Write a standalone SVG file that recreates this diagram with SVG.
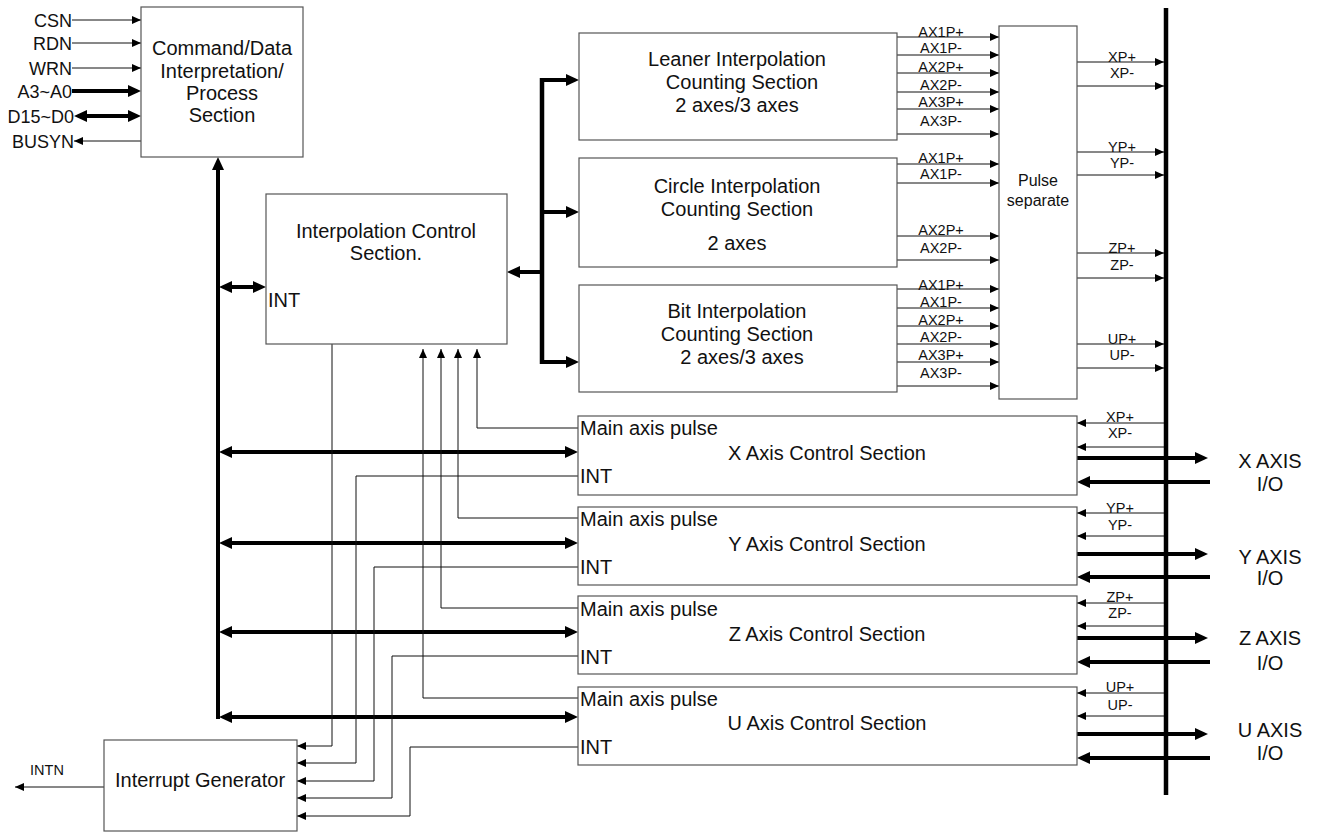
<svg xmlns="http://www.w3.org/2000/svg" width="1317" height="832" viewBox="0 0 1317 832">
<style>
.box{fill:#fff;stroke:#555;stroke-width:1.2}
.t{font-family:"Liberation Sans",Arial,sans-serif;font-size:20px;fill:#111}
.m{text-anchor:middle}
.e{text-anchor:end}
.s{font-family:"Liberation Sans",Arial,sans-serif;font-size:18px;fill:#111}
.l{font-family:"Liberation Sans",Arial,sans-serif;font-size:14.5px;fill:#111;text-anchor:middle}
.thin{fill:none;stroke:#111;stroke-width:1;marker-end:url(#a)}
.thinp{fill:none;stroke:#111;stroke-width:1}
.thick{fill:none;stroke:#000;stroke-width:4;marker-end:url(#b)}
.dbl{fill:none;stroke:#000;stroke-width:4;marker-start:url(#b);marker-end:url(#b)}
.bus{fill:none;stroke:#000;stroke-width:4.5}
</style>
<defs>
<marker id="a" viewBox="0 0 9 8" refX="9" refY="4" markerWidth="9" markerHeight="8" markerUnits="userSpaceOnUse" orient="auto-start-reverse"><path d="M0,0 L9,4 L0,8 z" fill="#000"/></marker>
<marker id="b" viewBox="0 0 13 12" refX="7" refY="6" markerWidth="13" markerHeight="12" markerUnits="userSpaceOnUse" orient="auto-start-reverse"><path d="M0,0 L13,6 L0,12 z" fill="#000"/></marker>
</defs>

<g id="connectors">
<!-- command inputs -->
<line class="thin" x1="72" y1="20" x2="141" y2="20"/>
<line class="thin" x1="72" y1="43" x2="141" y2="43"/>
<line class="thin" x1="72" y1="68" x2="141" y2="68"/>
<line class="thick" x1="72" y1="91" x2="135" y2="91"/>
<line class="dbl" x1="80" y1="116" x2="135" y2="116"/>
<line class="thin" x1="141" y1="141" x2="74" y2="141"/>
<!-- main bus -->
<line class="thick" x1="218" y1="719" x2="218" y2="163"/>
<line class="dbl" x1="225" y1="287" x2="260" y2="287"/>
<line class="dbl" x1="225" y1="452" x2="572" y2="452"/>
<line class="dbl" x1="225" y1="543" x2="572" y2="543"/>
<line class="dbl" x1="225" y1="632" x2="572" y2="632"/>
<line class="dbl" x1="225" y1="717" x2="572" y2="717"/>
<!-- distribution bus -->
<line class="bus" x1="542" y1="78" x2="542" y2="364"/>
<line class="thick" x1="540" y1="80" x2="573" y2="80"/>
<line class="thick" x1="542" y1="212" x2="573" y2="212"/>
<line class="thick" x1="540" y1="362" x2="573" y2="362"/>
<line class="thick" x1="544" y1="272" x2="513" y2="272"/>
<!-- leaner outputs -->
<line class="thin" x1="897" y1="37" x2="999" y2="37"/>
<line class="thin" x1="897" y1="55" x2="999" y2="55"/>
<line class="thin" x1="897" y1="73" x2="999" y2="73"/>
<line class="thin" x1="897" y1="92" x2="999" y2="92"/>
<line class="thin" x1="897" y1="109" x2="999" y2="109"/>
<line class="thin" x1="897" y1="134" x2="999" y2="134"/>
<!-- circle outputs -->
<line class="thin" x1="897" y1="164" x2="999" y2="164"/>
<line class="thin" x1="897" y1="183" x2="999" y2="183"/>
<line class="thin" x1="897" y1="236" x2="999" y2="236"/>
<line class="thin" x1="897" y1="260" x2="999" y2="260"/>
<!-- bit outputs -->
<line class="thin" x1="897" y1="289" x2="999" y2="289"/>
<line class="thin" x1="897" y1="308" x2="999" y2="308"/>
<line class="thin" x1="897" y1="326" x2="999" y2="326"/>
<line class="thin" x1="897" y1="344" x2="999" y2="344"/>
<line class="thin" x1="897" y1="362" x2="999" y2="362"/>
<line class="thin" x1="897" y1="386" x2="999" y2="386"/>
<!-- pulse separate outputs -->
<line class="thin" x1="1077" y1="62" x2="1164" y2="62"/>
<line class="thin" x1="1077" y1="86" x2="1164" y2="86"/>
<line class="thin" x1="1077" y1="152" x2="1164" y2="152"/>
<line class="thin" x1="1077" y1="175" x2="1164" y2="175"/>
<line class="thin" x1="1077" y1="253" x2="1164" y2="253"/>
<line class="thin" x1="1077" y1="278" x2="1164" y2="278"/>
<line class="thin" x1="1077" y1="344" x2="1164" y2="344"/>
<line class="thin" x1="1077" y1="368" x2="1164" y2="368"/>
<!-- right bus -->
<line class="bus" x1="1166" y1="8" x2="1166" y2="795"/>
<!-- axis pulse returns -->
<line class="thin" x1="1164" y1="423" x2="1077" y2="423"/>
<line class="thin" x1="1164" y1="447" x2="1077" y2="447"/>
<line class="thin" x1="1164" y1="513" x2="1077" y2="513"/>
<line class="thin" x1="1164" y1="536" x2="1077" y2="536"/>
<line class="thin" x1="1164" y1="603" x2="1077" y2="603"/>
<line class="thin" x1="1164" y1="626" x2="1077" y2="626"/>
<line class="thin" x1="1164" y1="693" x2="1077" y2="693"/>
<line class="thin" x1="1164" y1="716" x2="1077" y2="716"/>
<!-- axis I/O -->
<line class="thick" x1="1077" y1="458" x2="1202" y2="458"/>
<line class="thick" x1="1210" y1="482" x2="1083" y2="482"/>
<line class="thick" x1="1077" y1="554" x2="1202" y2="554"/>
<line class="thick" x1="1210" y1="577" x2="1083" y2="577"/>
<line class="thick" x1="1077" y1="638" x2="1202" y2="638"/>
<line class="thick" x1="1210" y1="662" x2="1083" y2="662"/>
<line class="thick" x1="1077" y1="734" x2="1202" y2="734"/>
<line class="thick" x1="1210" y1="758" x2="1083" y2="758"/>
<!-- main axis pulse to interpolation control -->
<polyline class="thin" points="578,428 477,428 477,349"/>
<polyline class="thin" points="578,518 458,518 458,349"/>
<polyline class="thin" points="578,608 441,608 441,349"/>
<polyline class="thin" points="578,698 423,698 423,349"/>
<!-- INT lines to interrupt generator -->
<polyline class="thin" points="332,344 332,746 297,746"/>
<polyline class="thin" points="578,476 356,476 356,763 297,763"/>
<polyline class="thin" points="578,567 374,567 374,781 297,781"/>
<polyline class="thin" points="578,656 392,656 392,798 297,798"/>
<polyline class="thin" points="578,747 410,747 410,816 297,816"/>
<!-- INTN -->
<line class="thin" x1="104" y1="787" x2="15" y2="787"/>
</g>

<g id="signal-labels">
<text class="s e" x="72" y="26.5">CSN</text>
<text class="s e" x="72" y="49.5">RDN</text>
<text class="s e" x="72" y="74.5">WRN</text>
<text class="s e" x="72" y="97.5">A3~A0</text>
<text class="s e" x="74" y="122.5">D15~D0</text>
<text class="s e" x="74" y="147.5">BUSYN</text>
<text class="l" x="941" y="37">AX1P+</text>
<text class="l" x="941" y="53">AX1P-</text>
<text class="l" x="941" y="72">AX2P+</text>
<text class="l" x="941" y="90">AX2P-</text>
<text class="l" x="941" y="107">AX3P+</text>
<text class="l" x="941" y="126">AX3P-</text>
<text class="l" x="941" y="163">AX1P+</text>
<text class="l" x="941" y="179">AX1P-</text>
<text class="l" x="941" y="235">AX2P+</text>
<text class="l" x="941" y="253">AX2P-</text>
<text class="l" x="941" y="290">AX1P+</text>
<text class="l" x="941" y="307">AX1P-</text>
<text class="l" x="941" y="325">AX2P+</text>
<text class="l" x="941" y="342">AX2P-</text>
<text class="l" x="941" y="360">AX3P+</text>
<text class="l" x="941" y="378">AX3P-</text>
<text class="l" x="1122" y="62">XP+</text>
<text class="l" x="1122" y="78">XP-</text>
<text class="l" x="1122" y="152">YP+</text>
<text class="l" x="1122" y="168">YP-</text>
<text class="l" x="1122" y="253">ZP+</text>
<text class="l" x="1122" y="270">ZP-</text>
<text class="l" x="1122" y="344">UP+</text>
<text class="l" x="1122" y="360">UP-</text>
<text class="l" x="1120" y="422">XP+</text>
<text class="l" x="1120" y="438">XP-</text>
<text class="l" x="1120" y="513">YP+</text>
<text class="l" x="1120" y="530">YP-</text>
<text class="l" x="1120" y="602">ZP+</text>
<text class="l" x="1120" y="618">ZP-</text>
<text class="l" x="1120" y="692">UP+</text>
<text class="l" x="1120" y="710">UP-</text>
<text class="t m" x="1270" y="468">X AXIS</text>
<text class="t m" x="1270" y="491">I/O</text>
<text class="t m" x="1270" y="564">Y AXIS</text>
<text class="t m" x="1270" y="585">I/O</text>
<text class="t m" x="1270" y="645">Z AXIS</text>
<text class="t m" x="1270" y="670">I/O</text>
<text class="t m" x="1270" y="737">U AXIS</text>
<text class="t m" x="1270" y="760">I/O</text>
<text class="l" x="47" y="775">INTN</text>
</g>

<g id="command">
<rect class="box" x="141" y="7" width="162" height="150"/>
<text class="t m" x="222" y="55">Command/Data</text>
<text class="t m" x="222" y="78">Interpretation/</text>
<text class="t m" x="222" y="100">Process</text>
<text class="t m" x="222" y="122">Section</text>
</g>

<g id="interp-control">
<rect class="box" x="266" y="194" width="241" height="150"/>
<text class="t m" x="386" y="238">Interpolation Control</text>
<text class="t m" x="386" y="260">Section.</text>
<text class="t" x="268" y="307">INT</text>
</g>

<g id="leaner">
<rect class="box" x="579" y="33" width="318" height="107"/>
<text class="t m" x="737" y="66">Leaner Interpolation</text>
<text class="t m" x="742" y="89">Counting Section</text>
<text class="t m" x="737" y="112">2 axes/3 axes</text>
</g>

<g id="circle">
<rect class="box" x="579" y="158" width="318" height="109"/>
<text class="t m" x="737" y="193">Circle Interpolation</text>
<text class="t m" x="737" y="216">Counting Section</text>
<text class="t m" x="737" y="250">2 axes</text>
</g>

<g id="bit">
<rect class="box" x="579" y="285" width="318" height="107"/>
<text class="t m" x="737" y="318">Bit Interpolation</text>
<text class="t m" x="737" y="341">Counting Section</text>
<text class="t m" x="742" y="364">2 axes/3 axes</text>
</g>

<g id="pulse-separate">
<rect class="box" x="999" y="26" width="78" height="373"/>
<text class="s m" x="1038" y="186" style="font-size:16px">Pulse</text>
<text class="s m" x="1038" y="206" style="font-size:16px">separate</text>
</g>

<g id="x-axis">
<rect class="box" x="578" y="416" width="499" height="79"/>
<text class="t" x="580" y="435">Main axis pulse</text>
<text class="t m" x="827" y="460">X Axis Control Section</text>
<text class="t" x="580" y="483">INT</text>
</g>

<g id="y-axis">
<rect class="box" x="578" y="507" width="499" height="78"/>
<text class="t" x="580" y="526">Main axis pulse</text>
<text class="t m" x="827" y="551">Y Axis Control Section</text>
<text class="t" x="580" y="574">INT</text>
</g>

<g id="z-axis">
<rect class="box" x="578" y="596" width="499" height="78"/>
<text class="t" x="580" y="616">Main axis pulse</text>
<text class="t m" x="827" y="641">Z Axis Control Section</text>
<text class="t" x="580" y="664">INT</text>
</g>

<g id="u-axis">
<rect class="box" x="578" y="687" width="499" height="78"/>
<text class="t" x="580" y="706">Main axis pulse</text>
<text class="t m" x="827" y="730">U Axis Control Section</text>
<text class="t" x="580" y="754">INT</text>
</g>

<g id="interrupt">
<rect class="box" x="104" y="740" width="193" height="91"/>
<text class="t m" x="200" y="787">Interrupt Generator</text>
</g>
</svg>
